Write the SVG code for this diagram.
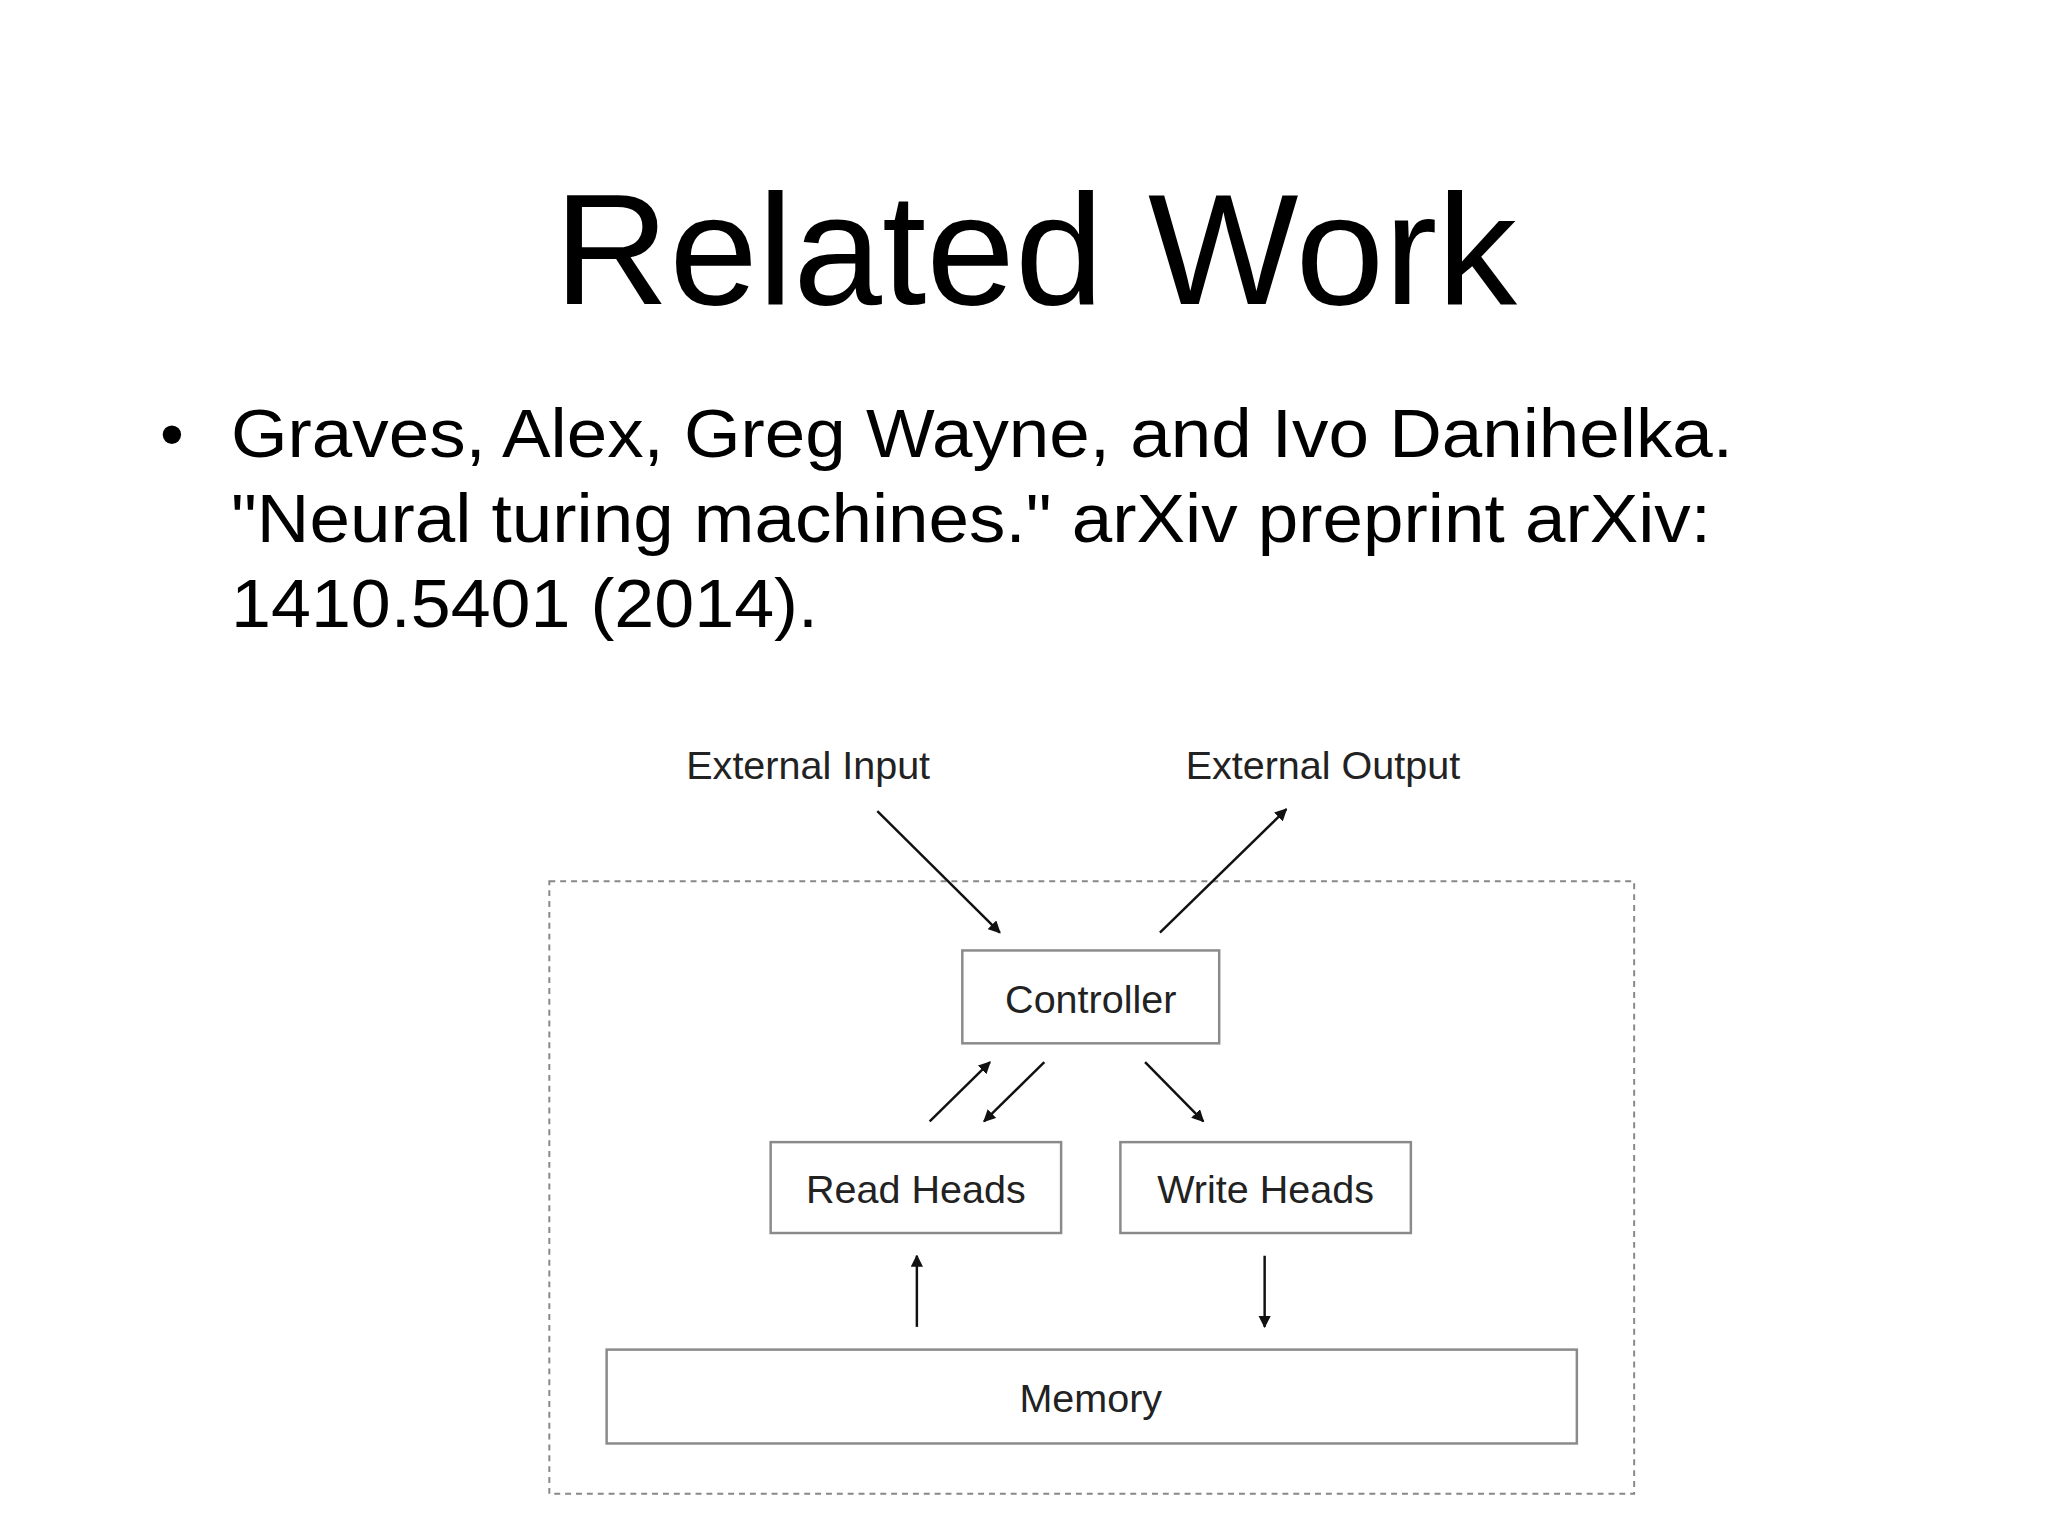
<svg xmlns="http://www.w3.org/2000/svg" width="2048" height="1536" viewBox="0 0 2048 1536">
<style>
.t{font-family:"Liberation Sans",Arial,sans-serif;fill:#000}
.n{fill:#fff;stroke:#8a8a8a;stroke-width:2.5}
.lbl{font-family:"Liberation Sans",Arial,sans-serif;font-size:40px;fill:#222;text-anchor:middle}
.c{stroke:#111;stroke-width:2.5;fill:none;marker-end:url(#a)}
</style>
<defs><marker id="a" viewBox="0 0 10 10" refX="9" refY="5" markerWidth="5" markerHeight="5" orient="auto"><path d="M0,0L10,5L0,10z" fill="#111"/></marker></defs>
<rect width="2048" height="1536" fill="#fff"/>
<text class="t" x="554" y="304" font-size="158" textLength="963" lengthAdjust="spacingAndGlyphs">Related Work</text>
<g class="t" font-size="68">
<text x="160" y="457">•</text>
<text x="231" y="457" textLength="1502" lengthAdjust="spacingAndGlyphs">Graves, Alex, Greg Wayne, and Ivo Danihelka.</text>
<text x="231" y="542" textLength="1480" lengthAdjust="spacingAndGlyphs">"Neural turing machines." arXiv preprint arXiv:</text>
<text x="231" y="627" textLength="587" lengthAdjust="spacingAndGlyphs">1410.5401 (2014).</text>
</g>
<g transform="scale(0.988)">
<rect x="556" y="892" width="1098" height="620" fill="none" stroke="#888" stroke-width="2" stroke-dasharray="6,5"/>
<g id="ext-input"><text class="lbl" x="818" y="788">External Input</text></g>
<g id="ext-output"><text class="lbl" x="1339" y="788">External Output</text></g>
<g id="controller"><rect class="n" x="974" y="962" width="260" height="94"/><text class="lbl" x="1104" y="1025">Controller</text></g>
<g id="read-heads"><rect class="n" x="780" y="1156" width="294" height="92"/><text class="lbl" x="927" y="1218">Read Heads</text></g>
<g id="write-heads"><rect class="n" x="1134" y="1156" width="294" height="92"/><text class="lbl" x="1281" y="1218">Write Heads</text></g>
<g id="memory"><rect class="n" x="614" y="1366" width="982" height="95"/><text class="lbl" x="1104" y="1429">Memory</text></g>
<g id="connectors">
<line class="c" x1="888" y1="821" x2="1012" y2="944"/>
<line class="c" x1="1174" y1="944" x2="1302" y2="819"/>
<line class="c" x1="941" y1="1135" x2="1002" y2="1075"/>
<line class="c" x1="1057" y1="1075" x2="996" y2="1135"/>
<line class="c" x1="1159" y1="1075" x2="1218" y2="1135"/>
<line class="c" x1="928" y1="1343" x2="928" y2="1271"/>
<line class="c" x1="1280" y1="1271" x2="1280" y2="1343"/>
</g>
</g>
</svg>
